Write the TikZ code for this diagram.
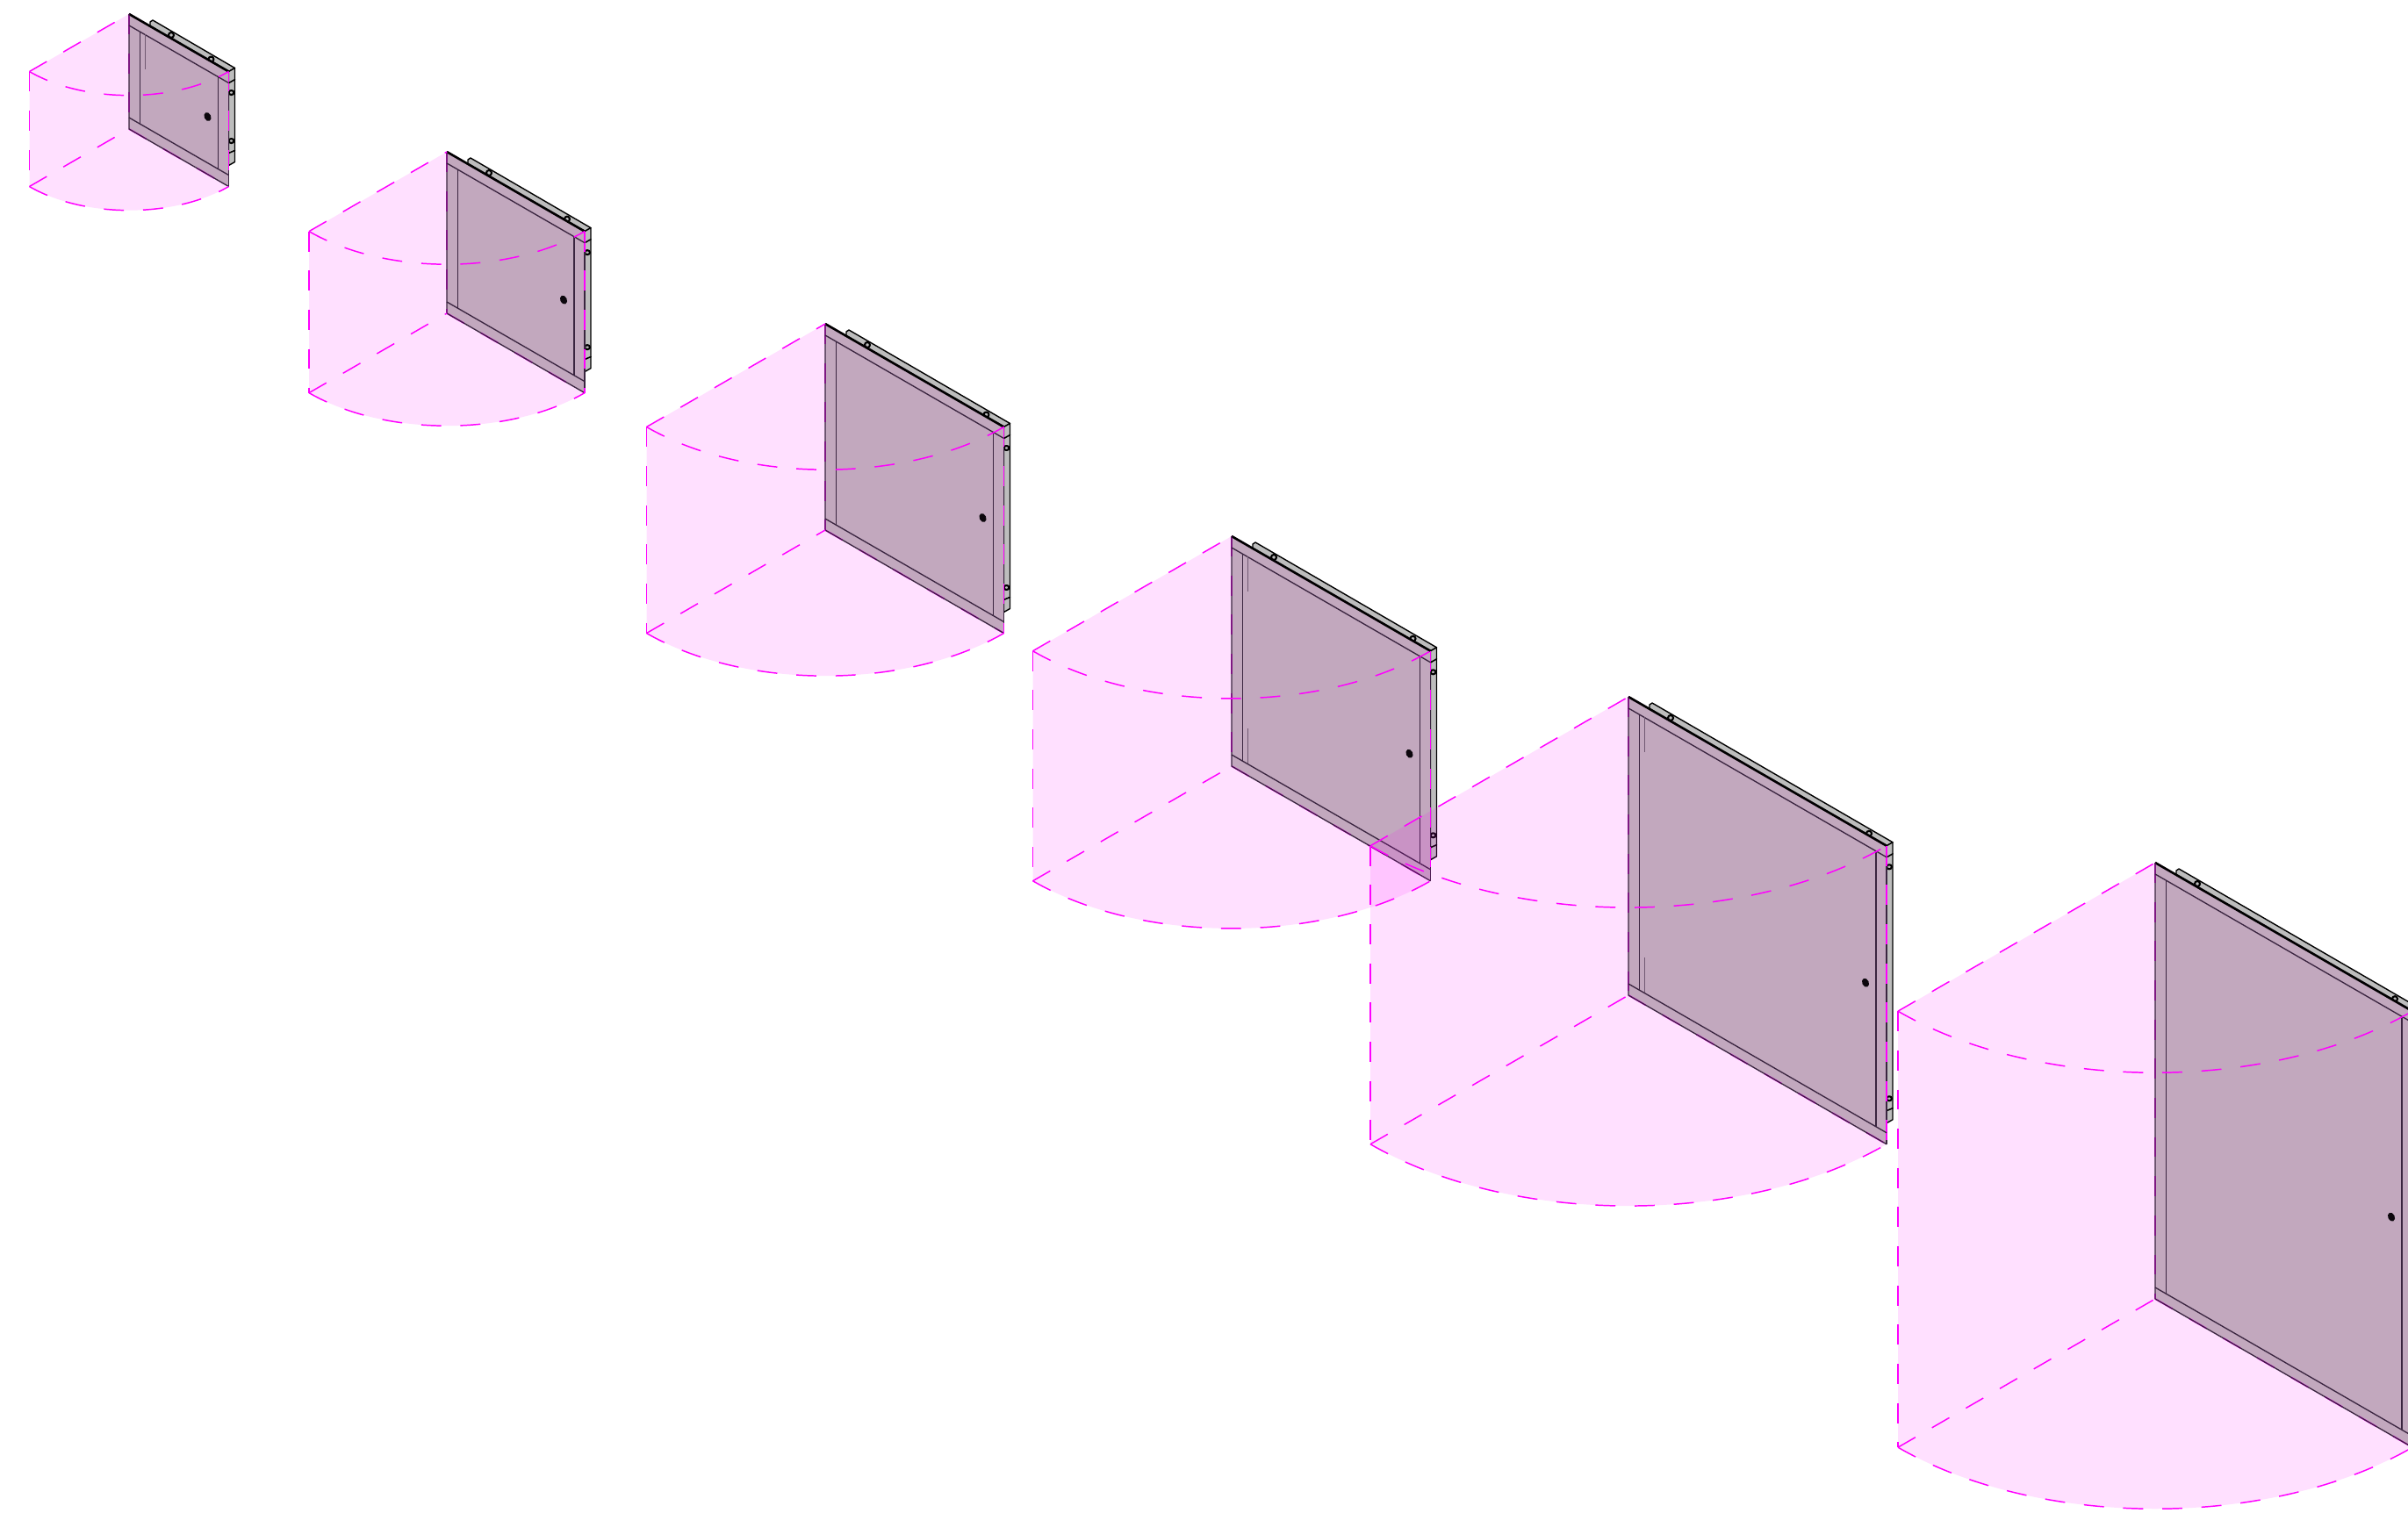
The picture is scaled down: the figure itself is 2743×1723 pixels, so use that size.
\documentclass[tikz,border=0pt]{standalone}
\usetikzlibrary{calc}
\definecolor{door face}{HTML}{C2A8BE}
\definecolor{door line}{HTML}{3A2540}
\definecolor{flange}{HTML}{BDBDBD}
\definecolor{sweep}{RGB}{255,0,255}
\begin{document}
\begin{tikzpicture}[x=0.01cm,y=0.01cm,line join=round,
                    sweep fill/.style={fill=sweep,fill opacity=0.12},
                    sweep line/.style={draw=sweep,line width=0.42pt,dash pattern=on 6.5pt off 6.2pt},
                    edge mark/.style={draw=sweep,line width=0.5pt,dash pattern=on 6.5pt off 6.2pt},
                    frame line/.style={draw=door line,line width=0.38pt},
                    thin tick/.style={draw=door line!60!door face,line width=0.35pt},
                    flange part/.style={fill=flange,draw=black,line width=0.4pt},
                    hinge mark/.style={fill=flange,draw=black,line width=0.6pt},
                    knob mark/.style={fill=black!80!door line}]

  \clip (0,0) rectangle (2743,1723);

  \foreach \px/\py/\dw/\dh/\ticks in {147/16/113.5/131/1,
                                      509/173/157/184/0,
                                      940/369/203.5/235/0,
                                      1403/611/226.5/262/2,
                                      1855/794/294/340/2,
                                      2455/983/293/497/0} {
    \pgfmathsetmacro\dy{0.5774*\dw}
    \pgfmathsetmacro\rx{1.4142*\dw}
    \pgfmathsetmacro\ry{0.8165*\dw}

    \coordinate (top) at (\px,1723-\py);
    \coordinate (bot) at ($(top)+(0,-\dh)$);
    \coordinate (left top) at ($(top)+(-\dw,-\dy)$);
    \coordinate (left bot) at ($(bot)+(-\dw,-\dy)$);
    \coordinate (right top) at ($(top)+(\dw,-\dy)$);
    \coordinate (right bot) at ($(bot)+(\dw,-\dy)$);

    % swept area
    \path[sweep fill] (top) -- (left top) -- (left bot)
      arc[start angle=225,end angle=315,x radius=\rx,y radius=\ry] -- (bot) -- cycle;

    % flanges behind the door
    \path[flange part] ($(top)+(24,-14)$) -- ($(top)+(24,-9)$) -- ($(top)+(27,-7)$)
      -- ($(right top)+(7,4)$) -- (right top) -- cycle;
    \path[flange part] ($(right top)+(0,-13)$) -- ($(right top)+(7,-9)$)
      -- ($(right bot)+(7,41)$) -- ($(right bot)+(0,38)$) -- cycle;
    \path[flange part] (right top) -- ($(right top)+(7,4)$) -- ($(right top)+(7,-9)$)
      -- ($(right top)+(0,-13)$) -- cycle;
    \path[flange part] ($(right bot)+(0,38)$) -- ($(right bot)+(7,41)$) -- ($(right bot)+(7,28)$)
      -- ($(right bot)+(0,24)$) -- cycle;
    \path[hinge mark] ($(top)+(48,-24)$) ellipse (3 and 3);
    \path[hinge mark] ($(right top)+(-20,14)$) ellipse (3 and 3);
    \path[hinge mark] ($(right top)+(3,-24)$) ellipse (3 and 2.5);
    \path[hinge mark] ($(right bot)+(3,52)$) ellipse (3 and 2.5);

    % door
    \path[fill=door face] (top) -- (right top) -- (right bot) -- (bot) -- cycle;
    \path[edge mark] (top) -- (right top);
    \path[edge mark] (bot) -- (right bot);
    \path[edge mark] (top) -- (bot);
    \draw[black,line width=0.75pt] (top) -- (right top);
    \draw[frame line] (top) -- (bot) -- (right bot);
    \draw[frame line] (right top) -- (right bot);
    \path[sweep line] (right top) -- (right bot);
    \draw[frame line] ($(top)+(0,-13)$) -- ($(right top)+(0,-13)$);
    \draw[frame line] ($(bot)+(0,13)$) -- ($(right bot)+(0,13)$);
    \draw[frame line] ($(top)+(12.5,-20)$) -- ($(bot)+(12.5,6)$);
    \draw[frame line] ($(right top)+(-12,-6)$) -- ($(right bot)+(-12,20)$);
    \ifnum\ticks>0
      \draw[thin tick] ($(top)+(18.5,-23)$) -- ($(top)+(18.5,-63)$);
    \fi
    \ifnum\ticks>1
      \draw[thin tick] ($(bot)+(18.5,3)$) -- ($(bot)+(18.5,43)$);
    \fi
    \path[knob mark] ($(right top)!0.5!(right bot)+(-24,14)$) ellipse [x radius=3.8,y radius=5.2,rotate=25];

    % sweep outline
    \path[sweep line] (left top) -- (top);
    \path[sweep line] (left bot) -- (bot);
    \path[sweep line] (left top) -- (left bot);
    \path[sweep line] (left top) arc[start angle=225,end angle=315,x radius=\rx,y radius=\ry];
    \path[sweep line] (left bot) arc[start angle=225,end angle=315,x radius=\rx,y radius=\ry];
  }
\end{tikzpicture}
\end{document}
